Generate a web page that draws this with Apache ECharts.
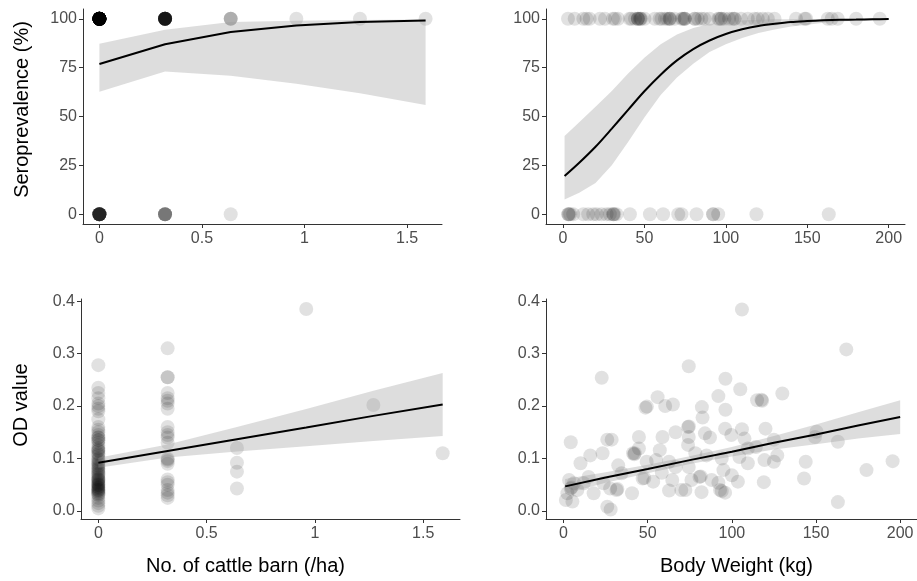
<!DOCTYPE html>
<html>
<head>
<meta charset="utf-8">
<script src="https://cdn.jsdelivr.net/npm/echarts@6/dist/echarts.min.js"></script>
<style>
html,body{margin:0;padding:0;background:#fff;}
#chart{width:917px;height:581px;}
</style>
</head>
<body>
<div id="chart"></div>
<script>
// ---------- Data ----------
// Panel A: seroprevalence vs number of cattle barn (/ha)
const barnLevels = [0, 0.32, 0.64, 0.96, 1.27, 1.59];
const barnPosCount = [52, 18, 3, 1, 1, 1];   // animals at 100 %
const barnNegCount = [15, 6, 1, 0, 0, 0];    // animals at 0 %
const barnFit = [76.9, 87.0, 93.2, 96.6, 98.3, 99.1];
const barnFitLow = [62.7, 73.0, 70.8, 66.7, 61.9, 55.9];
const barnFitHigh = [87.2, 94.4, 98.3, 99.0, 99.4, 99.6];

// Panel B: seroprevalence vs body weight (kg)
const weightPos = [3.1, 7.2, 12.5, 14.5, 16.4, 22.7, 25.8, 30.7, 31.9, 33.9, 40.9, 42, 44.2, 46, 46, 46, 47.2, 47.6, 48, 50.1, 56.4, 59.3, 60.5, 62.6, 64, 65.4, 65.4, 66, 68.5, 72.8, 73.6, 74.6, 74.6, 75, 80.8, 81, 82.8, 85, 86.9, 90, 95.3, 96, 97.1, 97.3, 99.2, 102, 104, 105.3, 105.3, 109.4, 113.5, 117.6, 119.6, 122.7, 125.8, 129.9, 143.1, 148.5, 149.3, 162.6, 165, 168.7, 180, 194.5];
const weightNeg = [3.3, 3.3, 3.8, 4.5, 6.3, 12.5, 15.5, 18.6, 20.7, 23.7, 26.8, 28.8, 30.9, 30.9, 31.5, 32.9, 41.1, 53.4, 61.5, 70.8, 72.8, 82, 92.2, 92.2, 95.3, 118.8, 163.2];
const weightFitX = [1, 10, 20, 30, 40, 50, 60, 70, 80, 90, 100, 110, 120, 130, 140, 150, 160, 170, 180, 190, 200];
const weightFit = [19.5, 26.3, 34.5, 43.8, 53.4, 62.9, 71.4, 78.7, 84.5, 88.9, 92.2, 94.6, 96.3, 97.4, 98.3, 98.8, 99.2, 99.45, 99.6, 99.75, 99.83];
const weightFitLow = [7.5, 11, 16, 25, 37, 49.5, 61, 70, 77, 83, 87, 90.2, 92.7, 94.5, 96, 97, 98, 98.6, 99, 99.3, 99.5];
const weightFitHigh = [40, 47, 55, 63, 72, 80, 87, 92, 95.3, 97.3, 98.5, 99.1, 99.5, 99.7, 99.8, 99.85, 99.9, 99.9, 99.95, 99.95, 99.95];

// Panel C: OD value vs number of cattle barn (/ha)
const odBarn0 = [0.278, 0.235, 0.225, 0.215, 0.205, 0.2, 0.195, 0.19, 0.175, 0.16, 0.155, 0.15, 0.145, 0.14, 0.14, 0.135, 0.135, 0.13, 0.125, 0.12, 0.118, 0.115, 0.115, 0.11, 0.108, 0.105, 0.1, 0.098, 0.095, 0.092, 0.09, 0.087, 0.085, 0.082, 0.08, 0.078, 0.075, 0.072, 0.07, 0.068, 0.065, 0.063, 0.06, 0.06, 0.058, 0.056, 0.054, 0.052, 0.05, 0.05, 0.048, 0.046, 0.045, 0.044, 0.042, 0.04, 0.04, 0.038, 0.036, 0.034, 0.032, 0.03, 0.025, 0.02, 0.015, 0.01, 0.005];
const odBarn032 = [0.31, 0.255, 0.255, 0.225, 0.215, 0.21, 0.205, 0.195, 0.16, 0.15, 0.145, 0.14, 0.13, 0.1, 0.098, 0.095, 0.09, 0.06, 0.055, 0.05, 0.04, 0.035, 0.03, 0.025];
const odBarn064 = [0.12, 0.092, 0.075, 0.043];
const odBarnHighX = [0.96, 1.27, 1.59];
const odBarnHigh = [0.385, 0.202, 0.11];
const odBarnFit = [0.092, 0.1143, 0.1367, 0.159, 0.1813, 0.203];
const odBarnFitLow = [0.0825, 0.102, 0.1135, 0.1236, 0.1335, 0.143];
const odBarnFitHigh = [0.1015, 0.1266, 0.1599, 0.1944, 0.2291, 0.263];

// Panel D: OD value vs body weight (kg)
const odWeightX = [4.3, 22.7, 74.4, 106, 168, 55.9, 60.4, 65, 48.7, 49.5, 82.2, 92, 96.2, 105, 115, 117.6, 118, 130, 96.2, 82.6, 74, 74.5, 66.6, 44.8, 26, 28.6, 15.9, 23.2, 10.1, 42.3, 44.8, 57.2, 74, 87, 96, 99.7, 106, 107.5, 109.5, 120, 125, 127, 119.4, 125, 150.3, 149.4, 163, 143.9, 142.9, 163, 180, 195.5, 119, 103.6, 100, 95, 94, 92, 93, 94, 96, 88, 82, 80.8, 81.5, 76, 72.4, 70, 62.7, 64.6, 58.4, 53.3, 47, 48, 49.4, 40.7, 41.3, 42, 31.5, 32, 32.5, 34.5, 27.7, 26, 28, 23.8, 17.9, 14.9, 12, 8.2, 5.3, 1.4, 3.3, 4.3, 4.8, 2.3, 6.2, 62.7, 66.6, 74.4, 78.3, 85, 55, 109.5, 114.3, 104.5, 84, 74.4, 58.8];
const odWeight = [0.131, 0.254, 0.276, 0.384, 0.308, 0.217, 0.2, 0.203, 0.197, 0.199, 0.198, 0.219, 0.252, 0.232, 0.211, 0.212, 0.21, 0.224, 0.193, 0.178, 0.16, 0.161, 0.15, 0.141, 0.136, 0.136, 0.106, 0.11, 0.091, 0.11, 0.119, 0.116, 0.126, 0.14, 0.157, 0.145, 0.156, 0.138, 0.119, 0.157, 0.136, 0.106, 0.097, 0.094, 0.151, 0.141, 0.132, 0.094, 0.062, 0.017, 0.078, 0.095, 0.055, 0.056, 0.068, 0.078, 0.1, 0.054, 0.04, 0.038, 0.035, 0.059, 0.036, 0.065, 0.066, 0.059, 0.04, 0.04, 0.039, 0.059, 0.073, 0.056, 0.062, 0.063, 0.094, 0.034, 0.11, 0.108, 0.04, 0.042, 0.087, 0.072, 0.043, 0.008, 0.003, 0.053, 0.034, 0.065, 0.053, 0.04, 0.018, 0.021, 0.059, 0.043, 0.045, 0.034, 0.053, 0.094, 0.084, 0.084, 0.11, 0.106, 0.097, 0.091, 0.122, 0.103, 0.148, 0.141, 0.141];
const odWeightFitX = [1, 25, 50, 75, 100, 125, 150, 175, 200];
const odWeightFit = [0.047, 0.064, 0.080, 0.097, 0.113, 0.130, 0.146, 0.163, 0.179];
const odWeightFitLow = [0.033, 0.054, 0.072, 0.0895, 0.104, 0.117, 0.127, 0.138, 0.147];
const odWeightFitHigh = [0.061, 0.074, 0.088, 0.1045, 0.122, 0.143, 0.165, 0.188, 0.211];

// Tick labels
const seroTicks = [0, 25, 50, 75, 100];
const odTicks = [0, 0.1, 0.2, 0.3, 0.4];
const barnTicks = [0, 0.5, 1, 1.5];
const weightTicks = [0, 50, 100, 150, 200];

// ---------- Build series data ----------
const barnPosPts = [], barnNegPts = [];
barnLevels.forEach((x, i) => {
  for (let k = 0; k < barnPosCount[i]; k++) barnPosPts.push([x, 100]);
  for (let k = 0; k < barnNegCount[i]; k++) barnNegPts.push([x, 0]);
});
const weightPts = weightPos.map(w => [w, 100]).concat(weightNeg.map(w => [w, 0]));
const odBarnPts = odBarn0.map(v => [barnLevels[0], v])
  .concat(odBarn032.map(v => [barnLevels[1], v]))
  .concat(odBarn064.map(v => [barnLevels[2], v]))
  .concat(odBarnHighX.map((x, i) => [x, odBarnHigh[i]]));
const odWeightPts = odWeightX.map((x, i) => [x, odWeight[i]]);

const zip = (xs, ys) => xs.map((x, i) => [x, ys[i]]);

// ---------- Styling ----------
const tickColor = '#4d4d4d';
const FONT = '"Liberation Sans", Arial, sans-serif';
const pointStyle = { color: 'rgba(0,0,0,0.15)' };
const bandFill = 'rgba(153,153,153,0.33)';

function axisBase(min, max, ticks, fmt) {
  return {
    type: 'value', min: min, max: max,
    splitLine: { show: false },
    axisLine: { show: true, onZero: false, lineStyle: { color: '#333', width: 1 } },
    axisTick: { show: true, length: 4, customValues: ticks, lineStyle: { color: '#333' } },
    axisLabel: { customValues: ticks, color: tickColor, fontSize: 16, fontFamily: FONT, margin: 6,
      formatter: fmt || (v => String(v)) }
  };
}

function bandSeries(idx, xs, lo, hi) {
  return {
    type: 'custom', xAxisIndex: idx, yAxisIndex: idx, silent: true, z: 3,
    data: xs.map((x, i) => [x, lo[i], hi[i]]),
    encode: { x: 0, y: [1, 2] },
    renderItem: function (params, api) {
      if (params.dataIndex !== 0) return null;
      const pts = [];
      for (let i = 0; i < xs.length; i++) pts.push(api.coord([xs[i], hi[i]]));
      for (let i = xs.length - 1; i >= 0; i--) pts.push(api.coord([xs[i], lo[i]]));
      return { type: 'polygon', shape: { points: pts }, style: { fill: bandFill } };
    }
  };
}
function lineSeries(idx, xs, ys, smooth) {
  return {
    type: 'line', xAxisIndex: idx, yAxisIndex: idx, data: zip(xs, ys), smooth: smooth || false,
    showSymbol: false, symbol: 'none', silent: true, z: 4,
    lineStyle: { color: '#000', width: 2 }
  };
}
function scatterSeries(idx, data) {
  return {
    type: 'scatter', xAxisIndex: idx, yAxisIndex: idx, data: data, symbolSize: 14,
    itemStyle: pointStyle, silent: true, z: 2, large: false
  };
}

const xA = axisBase(-0.08, 1.67, barnTicks);
const xB = axisBase(-10.4, 210, weightTicks);
const xC = axisBase(-0.08, 1.67, barnTicks);
const xD = axisBase(-10.4, 210, weightTicks);
xA.gridIndex = 0; xB.gridIndex = 1; xC.gridIndex = 2; xD.gridIndex = 3;
xA.axisLabel.margin = 7; xB.axisLabel.margin = 7; xC.axisLabel.margin = 7; xD.axisLabel.margin = 7;
xC.name = 'No. of cattle barn (/ha)';
xD.name = 'Body Weight (kg)';
[xC, xD].forEach(a => {
  a.nameLocation = 'middle'; a.nameGap = 37;
  a.nameTextStyle = { color: '#000', fontSize: 20, fontFamily: FONT };
});
xC.nameTextStyle.padding = [0, 50, 0, 0];
xD.nameTextStyle.padding = [0, 0, 0, 10];

const yA = axisBase(-5, 105, seroTicks);
const yB = axisBase(-5, 105, seroTicks);
const yC = axisBase(-0.0152, 0.404, odTicks, v => v.toFixed(1));
const yD = axisBase(-0.0152, 0.404, odTicks, v => v.toFixed(1));
yA.gridIndex = 0; yB.gridIndex = 1; yC.gridIndex = 2; yD.gridIndex = 3;
yA.name = 'Seroprevalence (%)';
yC.name = 'OD value';
[yA, yC].forEach(a => {
  a.nameLocation = 'middle'; a.nameGap = 51;
  a.nameTextStyle = { color: '#000', fontSize: 20, fontFamily: FONT };
});
yA.nameTextStyle.padding = [0, 0, 0, 14];
yC.nameGap = 50;
yC.nameTextStyle.padding = [0, 0, 0, 8];

const option = {
  animation: false,
  backgroundColor: '#fff',
  grid: [
    { left: 83, top: 9, width: 359, height: 215 },
    { left: 546, top: 9, width: 359, height: 215 },
    { left: 81, top: 299, width: 379, height: 220 },
    { left: 546, top: 299, width: 377, height: 220 }
  ],
  xAxis: [xA, xB, xC, xD],
  yAxis: [yA, yB, yC, yD],
  series: [
    scatterSeries(0, barnPosPts.concat(barnNegPts)),
    bandSeries(0, barnLevels, barnFitLow, barnFitHigh),
    lineSeries(0, barnLevels, barnFit),

    scatterSeries(1, weightPts),
    bandSeries(1, weightFitX, weightFitLow, weightFitHigh),
    lineSeries(1, weightFitX, weightFit, 0.3),

    scatterSeries(2, odBarnPts),
    bandSeries(2, barnLevels, odBarnFitLow, odBarnFitHigh),
    lineSeries(2, barnLevels, odBarnFit),

    scatterSeries(3, odWeightPts),
    bandSeries(3, odWeightFitX, odWeightFitLow, odWeightFitHigh),
    lineSeries(3, odWeightFitX, odWeightFit)
  ]
};

const chart = echarts.init(document.getElementById('chart'), null, { renderer: 'canvas' });
chart.setOption(option);
</script>
</body>
</html>
